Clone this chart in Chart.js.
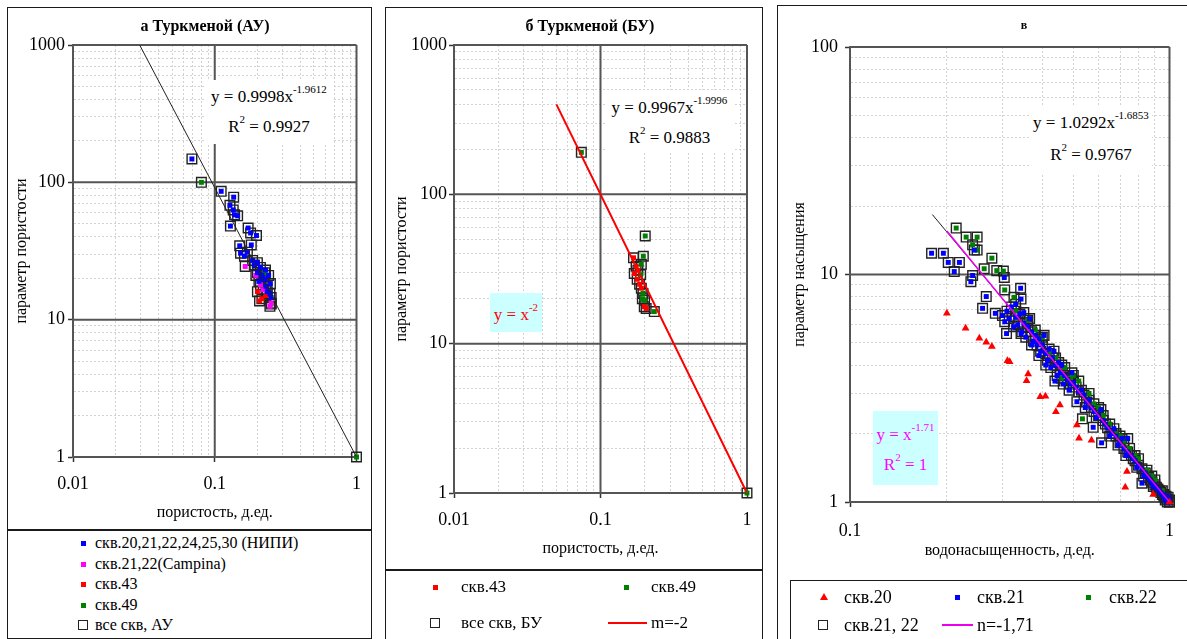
<!DOCTYPE html>
<html>
<head>
<meta charset="utf-8">
<script src="https://cdn.jsdelivr.net/npm/chart.js@4.4.1/dist/chart.umd.min.js"></script>
<style>
  body { margin: 0; width: 1187px; height: 639px; overflow: hidden; background: #fff; position: relative;
         font-family: "Liberation Serif", "Times New Roman", serif; color: #000; }
  .frame { position: absolute; border: 1.5px solid #1a1a1a; box-sizing: border-box; }
  .hline { position: absolute; height: 1.5px; background: #1a1a1a; }
  canvas { position: absolute; }
  .title { position: absolute; font-weight: bold; text-align: center; white-space: nowrap; }
  .bg { position: absolute; }
  .eq { position: absolute; text-align: center; font-size: 17px; line-height: 20px; white-space: nowrap; }
  .eq sup { font-size: 11px; line-height: 0; position: relative; top: -2px; }
  .lg { position: absolute; white-space: nowrap; line-height: 22px; }
  .dot { position: absolute; width: 5px; height: 5px; }
  .box { position: absolute; width: 10px; height: 10px; border: 1.5px solid #222; box-sizing: border-box; }
  .tri { position: absolute; width: 0; height: 0; border-left: 4px solid transparent;
         border-right: 4px solid transparent; border-bottom: 7px solid #ff0000; }
  .ln { position: absolute; height: 1.5px; }
</style>
</head>
<body>

<!-- panel frames -->
<div class="frame" style="left:7px;top:7px;width:365px;height:632px"></div>
<div class="hline" style="left:7px;top:529px;width:365px"></div>
<div class="frame" style="left:385px;top:7px;width:378px;height:640px"></div>
<div class="hline" style="left:385px;top:569px;width:378px"></div>
<div class="frame" style="left:777px;top:5px;width:420px;height:640px"></div>
<div class="frame" style="left:790px;top:580px;width:410px;height:70px"></div>

<canvas id="chartA" width="365" height="523" style="left:7px;top:7px"></canvas>
<canvas id="chartB" width="378" height="563" style="left:385px;top:7px"></canvas>
<canvas id="chartC" width="408" height="574" style="left:779px;top:6px"></canvas>

<!-- titles -->
<div class="title" style="left:105px;top:17px;width:200px;font-size:16px">а Туркменой (АУ)</div>
<div class="title" style="left:490px;top:17px;width:200px;font-size:16px">б Туркменой (БУ)</div>
<div class="title" style="left:1004px;top:18px;width:40px;font-size:12px">в</div>

<!-- fit equations -->
<div class="bg" style="left:204px;top:80px;width:130px;height:64px;background:#fff"></div>
<div class="eq" style="left:204px;top:87px;width:130px">y = 0.9998x<sup>-1.9612</sup></div>
<div class="eq" style="left:204px;top:117px;width:130px">R<sup>2</sup> = 0.9927</div>

<div class="bg" style="left:606px;top:90px;width:127px;height:63px;background:#fff"></div>
<div class="eq" style="left:606px;top:98px;width:127px">y = 0.9967x<sup>-1.9996</sup></div>
<div class="eq" style="left:606px;top:128px;width:127px">R<sup>2</sup> = 0.9883</div>

<div class="bg" style="left:1030px;top:107px;width:122px;height:66px;background:#fff"></div>
<div class="eq" style="left:1030px;top:113px;width:122px">y = 1.0292x<sup>-1.6853</sup></div>
<div class="eq" style="left:1030px;top:145px;width:122px">R<sup>2</sup> = 0.9767</div>

<div class="bg" style="left:490px;top:293px;width:52px;height:39px;background:#ccffff"></div>
<div class="eq" style="left:490px;top:305px;width:52px;color:#ff0000">y = x<sup>-2</sup></div>

<div class="bg" style="left:873px;top:411px;width:65px;height:74px;background:#ccffff"></div>
<div class="eq" style="left:873px;top:425px;width:65px;color:#ff00ff">y = x<sup>-1.71</sup></div>
<div class="eq" style="left:873px;top:455px;width:65px;color:#ff00ff">R<sup>2</sup> = 1</div>

<!-- legend A -->
<div class="dot" style="left:81px;top:541px;background:#0000ff"></div>
<div class="lg" style="left:95px;top:532px;font-size:16px">скв.20,21,22,24,25,30 (НИПИ)</div>
<div class="dot" style="left:81px;top:562px;background:#ff00ff"></div>
<div class="lg" style="left:95px;top:553px;font-size:16px">скв.21,22(Campina)</div>
<div class="dot" style="left:81px;top:582px;background:#ff0000"></div>
<div class="lg" style="left:95px;top:573px;font-size:16px">скв.43</div>
<div class="dot" style="left:81px;top:603px;background:#008000"></div>
<div class="lg" style="left:95px;top:594px;font-size:16px">скв.49</div>
<div class="box" style="left:78px;top:620px"></div>
<div class="lg" style="left:95px;top:614px;font-size:16px">все скв, АУ</div>

<!-- legend B -->
<div class="dot" style="left:433px;top:585px;background:#ff0000"></div>
<div class="lg" style="left:461px;top:576px;font-size:17px">скв.43</div>
<div class="dot" style="left:624px;top:585px;background:#008000"></div>
<div class="lg" style="left:651px;top:576px;font-size:17px">скв.49</div>
<div class="box" style="left:430px;top:618px"></div>
<div class="lg" style="left:461px;top:612px;font-size:17px">все скв, БУ</div>
<div class="ln" style="left:608px;top:622px;width:39px;background:#ff0000"></div>
<div class="lg" style="left:651px;top:612px;font-size:17px">m=-2</div>

<!-- legend C -->
<div class="tri" style="left:820px;top:593px"></div>
<div class="lg" style="left:844px;top:586px;font-size:18px">скв.20</div>
<div class="dot" style="left:955px;top:595px;background:#0000ff"></div>
<div class="lg" style="left:977px;top:586px;font-size:18px">скв.21</div>
<div class="dot" style="left:1086px;top:595px;background:#008000"></div>
<div class="lg" style="left:1109px;top:586px;font-size:18px">скв.22</div>
<div class="box" style="left:818px;top:620px"></div>
<div class="lg" style="left:844px;top:614px;font-size:18px">скв.21, 22</div>
<div class="ln" style="left:942px;top:624px;width:31px;background:#ee00ee"></div>
<div class="lg" style="left:977px;top:614px;font-size:18px">n=-1,71</div>

<script>
// ---- АУ: porosity parameter vs porosity ----
const auNipi = [[0.069,148],[0.111,86],[0.136,78],[0.128,68],[0.135,63],[0.138,58],[0.145,57],[0.129,48],
  [0.172,46.5],[0.179,42.8],[0.197,41],[0.181,35],[0.150,34.5],[0.152,30.5],[0.162,29],[0.170,31],
  [0.185,27],[0.190,25],[0.200,26],[0.210,24],[0.200,22],[0.215,21],[0.220,20],[0.205,19],[0.225,19.5],
  [0.230,17.5],[0.247,18.3],[0.235,16],[0.245,15.5],[0.250,14.5],[0.240,21],[0.228,23]];
const auCampina = [[0.164,24.4],[0.195,21],[0.220,16.5],[0.245,12.5],[0.250,13.2],[0.210,18]];
const au43 = [[0.207,13.7],[0.215,14.2],[0.230,15],[0.200,16]];
const au49 = [[0.0805,100],[0.225,22],[0.250,13],[1,1]];
const auFit = { a: 0.9998, b: -1.9612, from: 0.0296, to: 1 };

// ---- БУ ----
const bu43 = [[0.168,37.6],[0.175,33],[0.170,29.5],[0.180,31],[0.178,27],[0.185,25],[0.190,23.5],
  [0.199,17.7],[0.205,17.2]];
const bu49 = [[0.074,191],[0.202,52.6],[0.196,38.5],[0.190,34],[0.188,29],[0.195,21.7],[0.193,20],
  [0.200,19.5],[0.233,16.4],[1,1]];
const buFit = { a: 0.9967, b: -1.9996, from: 0.074, to: 1 };
const buArchie = { a: 1, b: -2, from: 0.05, to: 1 };

// ---- saturation parameter vs water saturation ----
const w20 = [[0.201,6.75],[0.230,5.8],[0.254,5.24],[0.267,5.04],[0.278,4.82],[0.311,4.18],[0.316,4.14],
  [0.361,3.65],[0.357,3.41],[0.394,2.9],[0.409,2.92],[0.454,2.67],[0.441,2.49],[0.513,2.18],[0.521,1.905],
  [0.570,1.87],[0.736,1.36],[0.727,1.16],[0.889,1.08],[1,1]];
const w21 = [[0.180,12.4],[0.196,12.4],[0.203,11.3],[0.220,11.3],[0.212,10.3],[0.245,12.8],[0.239,9.3],[0.242,9.9],
  [0.260,7.1],[0.267,8.0],[0.285,6.75],[0.304,9.7],[0.309,5.5],[0.342,8.7],[0.343,7.8],[0.343,5.5],
  [0.300,6.6],[0.310,6.9],[0.320,7.2],[0.305,6.2],[0.330,6.5],[0.335,6.0],[0.340,6.7],[0.350,6.1],
  [0.345,5.6],[0.360,5.9],[0.355,5.3],[0.370,5.6],[0.375,5.1],[0.380,5.4],[0.385,4.9],[0.390,5.2],
  [0.395,4.6],[0.400,4.9],[0.410,4.5],[0.420,4.7],[0.415,4.2],[0.430,4.3],[0.440,4.0],[0.450,4.1],
  [0.438,3.4],[0.455,3.7],[0.470,3.6],[0.480,3.45],[0.490,3.3],[0.500,3.35],[0.513,2.76],[0.520,3.05],
  [0.530,3.1],[0.550,2.75],[0.570,2.6],[0.577,2.13],[0.580,2.5],[0.600,2.4],[0.613,1.82],[0.620,2.28],
  [0.640,2.12],[0.660,2.0],[0.680,1.95],[0.700,1.82],[0.720,1.72],[0.740,1.9],[0.740,1.66],[0.760,1.6],
  [0.780,1.52],[0.800,1.45],[0.820,1.21],[0.820,1.4],[0.840,1.34],[0.860,1.28],[0.880,1.22],[0.900,1.19],
  [0.920,1.14],[0.930,1.12],[0.940,1.10],[0.960,1.06],[0.960,1.08],[0.970,1.02],[0.980,1.03],[0.985,1.0],
  [0.990,1.05],[1.000,1.02],[1.000,1.0],
  [0.315,6.4],[0.325,5.9],[0.330,7.4],[0.350,6.8],[0.365,6.4],[0.370,4.9],[0.390,4.4],[0.405,5.4],
  [0.410,4.0],[0.425,3.9],[0.435,4.6],[0.445,3.6],[0.460,4.0],[0.465,3.3],[0.485,3.1],[0.495,3.7],
  [0.510,3.2],[0.540,2.95],[0.545,2.6],[0.560,2.8],[0.590,2.35],[0.610,2.55],[0.630,2.2],[0.650,1.95],
  [0.670,2.1],[0.690,1.78],[0.710,1.9],[0.730,1.6],[0.770,1.55],[0.790,1.42],[0.830,1.3],[0.870,1.25],
  [0.890,1.17],[0.910,1.16],[0.950,1.08],[0.975,1.06]];
const w22 = [[0.215,16.0],[0.231,14.6],[0.250,14.6],[0.242,13.5],[0.250,12.8],[0.278,11.8],[0.263,10.6],
  [0.288,10.4],[0.302,10.35],[0.305,8.55],[0.326,7.94],[0.360,6.3],[0.400,5.3],[0.440,4.3],[0.470,3.9],
  [0.500,3.6],[0.520,3.4],[0.534,2.32],[0.560,3.0],[0.600,2.6],[0.650,2.2],[0.700,1.95],[0.750,1.72],
  [0.800,1.55],[0.850,1.38],[0.900,1.25],[0.950,1.12],[1.000,1.0],
  [0.330,6.9],[0.380,5.7],[0.420,4.5],[0.460,3.5],[0.490,3.5],[0.580,2.7],[0.620,2.4],[0.680,2.0],
  [0.720,1.85],[0.780,1.6],[0.880,1.3],[0.970,1.05]];
const wFit = { a: 1.0292, b: -1.6853, from: 0.181, to: 1 };
const wSat = { a: 1, b: -1.71, from: 0.201, to: 1 };

Chart.defaults.font.family = '"Liberation Serif", "Times New Roman", serif';
Chart.defaults.color = '#000';

function isMajor(v) {
  const l = Math.log10(v);
  return Math.abs(l - Math.round(l)) < 1e-6;
}

// 1..9 x 10^k ticks between two powers of ten
function logTicks(lo, hi) {
  const out = [];
  for (let k = Math.round(Math.log10(lo)); k <= Math.round(Math.log10(hi)); k++) {
    for (let m = 1; m <= 9; m++) {
      const v = Number((m * Math.pow(10, k)).toPrecision(3));
      if (v > hi * 1.0001) break;
      out.push(v);
    }
  }
  return out;
}

function pts(list) { return list.map(p => ({ x: p[0], y: p[1] })); }
function powerLine(f) {
  return [f.from, f.to].map(x => ({ x: x, y: f.a * Math.pow(x, f.b) }));
}

function logAxis(o) {
  return {
    type: 'logarithmic',
    position: o.position,
    min: o.min,
    max: o.max,
    afterBuildTicks: axis => { axis.ticks = logTicks(o.min, o.max).map(v => ({ value: v })); },
    afterFit: axis => { if (o.position === 'left') axis.width = o.size; else axis.height = o.size; },
    grid: {
      color: '#d2d2d2',
      lineWidth: 1,
      tickLength: 5,
      tickWidth: 1.5,
      tickColor: ctx => (ctx.tick && isMajor(ctx.tick.value)) ? '#333' : 'rgba(0,0,0,0)'
    },
    border: { display: true, color: '#555', width: 2, dash: [2, 2] },
    ticks: {
      autoSkip: false, maxRotation: 0, padding: o.pad,
      font: { size: 18 },
      callback: v => isMajor(v) ? String(v) : ''
    },
    title: { display: true, text: o.title, font: { size: 16 }, padding: o.titlePad }
  };
}

// solid dark lines at the decades on top of the dashed minor grid
const majorGrid = {
  id: 'majorGrid',
  beforeDatasetsDraw(chart) {
    const { ctx, chartArea: a, scales } = chart;
    ctx.save();
    ctx.strokeStyle = '#555';
    ctx.lineWidth = 2;
    ['x', 'y'].forEach(id => {
      const s = scales[id];
      s.ticks.forEach(t => {
        if (!isMajor(t.value)) return;
        const p = s.getPixelForValue(t.value);
        ctx.beginPath();
        if (id === 'x') { ctx.moveTo(p, a.top); ctx.lineTo(p, a.bottom); }
        else { ctx.moveTo(a.left, p); ctx.lineTo(a.right, p); }
        ctx.stroke();
      });
    });
    ctx.restore();
  }
};

function dots(list, color) {
  return { data: pts(list), pointStyle: 'rect', pointRadius: 3.5, backgroundColor: color, borderWidth: 0, clip: false };
}
function squares(list) {
  return { data: pts(list), pointStyle: 'rect', pointRadius: 6.8, backgroundColor: 'rgba(0,0,0,0)',
           borderColor: '#222', borderWidth: 1.4, clip: false };
}
function line(f, color, width) {
  return { data: powerLine(f), showLine: true, pointRadius: 0, borderColor: color, borderWidth: width, fill: false };
}

function makeChart(id, datasets, xo, yo, padding) {
  new Chart(document.getElementById(id), {
    type: 'scatter',
    data: { datasets: datasets },
    options: {
      responsive: false,
      animation: false,
      layout: { padding: padding },
      plugins: { legend: { display: false }, tooltip: { enabled: false } },
      scales: { x: logAxis(xo), y: logAxis(yo) }
    },
    plugins: [majorGrid]
  });
}

makeChart('chartA', [
  line(auFit, '#222', 1),
  dots(auNipi, '#0000ff'), dots(auCampina, '#ff00ff'), dots(au43, '#ff0000'), dots(au49, '#008000'),
  squares(auNipi.concat(auCampina, au43, au49))
],
  { position: 'bottom', min: 0.01, max: 1, size: 73, pad: 11, title: 'пористость, д.ед.', titlePad: { bottom: 8 } },
  { position: 'left', min: 1, max: 1000, size: 66, pad: 3, title: 'параметр пористости', titlePad: { top: 5 } },
  { left: 0, right: 15, top: 38, bottom: 0 });

makeChart('chartB', [
  line(buArchie, '#ff0000', 2),
  line(buFit, '#222', 1),
  dots(bu43, '#ff0000'), dots(bu49, '#008000'),
  squares(bu43.concat(bu49))
],
  { position: 'bottom', min: 0.01, max: 1, size: 77, pad: 11, title: 'пористость, д.ед.', titlePad: { bottom: 12 } },
  { position: 'left', min: 1, max: 1000, size: 69, pad: 2, title: 'параметр пористости', titlePad: { top: 7 } },
  { left: 0, right: 16, top: 38, bottom: 0 });

makeChart('chartC', [
  line(wSat, '#ee00ee', 1.5),
  line(wFit, '#222', 1),
  { data: pts(w20), pointStyle: 'triangle', pointRadius: 4.5, backgroundColor: '#ff0000', borderWidth: 0, clip: false },
  dots(w21, '#0000ff'), dots(w22, '#008000'),
  squares(w21.concat(w22))
],
  { position: 'bottom', min: 0.1, max: 1, size: 78, pad: 13, title: 'водонасыщенность, д.ед.', titlePad: { bottom: 20 } },
  { position: 'left', min: 1, max: 100, size: 71, pad: 7, title: 'параметр насыщения', titlePad: { top: 11 } },
  { left: 0, right: 6, top: 41, bottom: 0 });
</script>
</body>
</html>
